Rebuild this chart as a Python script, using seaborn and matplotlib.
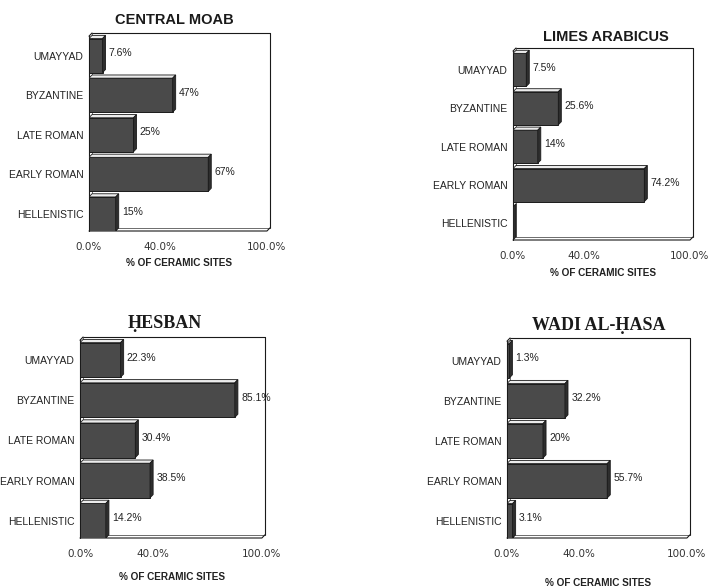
import matplotlib
matplotlib.use("Agg")
import matplotlib.pyplot as plt
from matplotlib.patches import Polygon
import seaborn as sns
import pandas as pd

# Periods, listed top to bottom
periods = ["UMAYYAD", "BYZANTINE", "LATE ROMAN", "EARLY ROMAN", "HELLENISTIC"]

# Share of ceramic sites (%) per region and period
central_moab = [7.6, 47, 25, 67, 15]
limes_arabicus = [7.5, 25.6, 14, 74.2, 0]
hesban = [22.3, 85.1, 30.4, 38.5, 14.2]
wadi_al_hasa = [1.3, 32.2, 20, 55.7, 3.1]

tick_values = [0, 40, 100]
tick_labels = ["0.0%", "40.0%", "100.0%"]
x_label = "% OF CERAMIC SITES"

sns.set_style("white")
plt.rcParams["font.family"] = ["Liberation Sans", "DejaVu Sans"]

W, H = 718, 588
fig = plt.figure(figsize=(W / 100, H / 100), dpi=100)

# (title, values, box in pixels [left, top, right, bottom], title style,
#  title offset px (dx, dy above top), xlabel offset px below bottom)
panels = [
    ("CENTRAL MOAB", central_moab, (89, 33, 270, 231), "sans", (-5, 13), 32),
    ("LIMES ARABICUS", limes_arabicus, (513, 48, 693, 240), "sans", (3, 11), 33),
    ("ḤESBAN", hesban, (80, 337, 265, 538), "serif", (-8, 14), 39),
    ("WADI AL-ḤASA", wadi_al_hasa, (507, 338, 690, 538), "serif", (0, 13), 45),
]

DX = 1.7      # depth offset along x (data units)
DY = 0.08     # depth offset along y (category units)
BAR_W = 0.86
FRONT = "#4a4a4a"
TOP = "#ececec"
SIDE = "#2e2e2e"
LINE = "#1a1a1a"

for title, vals, (l, t, r, b), style, (tdx, tdy), xl_off in panels:
    ax = fig.add_axes([l / W, 1 - b / H, (r - l) / W, (b - t) / H])
    df = pd.DataFrame({"period": periods, "share": vals})
    sns.barplot(data=df, x="share", y="period", orient="h", color=FRONT,
                saturation=1, edgecolor=LINE, linewidth=0.7, width=BAR_W,
                ax=ax, zorder=3)

    bottom = len(periods) - 1 + BAR_W / 2
    top = bottom - 5.0
    ax.set_xlim(0, 100 + DX)
    ax.set_ylim(bottom, top)

    # 3D faces of each bar: light top face and dark right face
    bars = list(ax.patches)
    for bar, v in zip(bars, vals):
        y0 = bar.get_y()               # upper edge (smaller y, axis inverted)
        y1 = y0 + bar.get_height()     # lower edge
        w = bar.get_width()
        ax.add_patch(Polygon([(0, y0), (w, y0), (w + DX, y0 - DY), (DX, y0 - DY)],
                             closed=True, facecolor=TOP, edgecolor=LINE,
                             linewidth=0.6, zorder=4))
        ax.add_patch(Polygon([(w, y0), (w + DX, y0 - DY), (w + DX, y1 - DY), (w, y1)],
                             closed=True, facecolor=SIDE, edgecolor=LINE,
                             linewidth=0.6, zorder=4))
        if v > 0:
            ax.text(w + DX + 1.8, (y0 + y1) / 2 - 0.06, f"{v:g}%",
                    ha="left", va="center", fontsize=7.5, color="#222")

    # Box: back wall, left wall and floor
    lk = dict(color=LINE, lw=0.8, clip_on=False, zorder=2)
    ax.plot([DX, 100 + DX], [top, top], **lk)
    ax.plot([100 + DX, 100 + DX], [top, bottom - DY], **lk)
    ax.plot([DX, 100 + DX], [bottom - DY, bottom - DY], color="#555", lw=0.6,
            clip_on=False, zorder=2)
    ax.plot([0, 100, 100 + DX], [bottom, bottom, bottom - DY], **lk)
    ax.plot([0, 0], [top + DY, bottom], **lk)
    ax.plot([DX, DX], [top, bottom - DY], color="#555", lw=0.6, clip_on=False, zorder=2)
    ax.plot([0, DX], [top + DY, top], **lk)

    for s in ax.spines.values():
        s.set_visible(False)

    ax.set_xticks(tick_values)
    ax.set_xticklabels(tick_labels, family="DejaVu Sans", fontsize=7.5, color="#333")
    ax.set_xticks(range(10, 100, 10), minor=True)
    ax.tick_params(axis="x", which="major", length=2, width=0.6, pad=6, color="#444")
    ax.tick_params(axis="x", which="minor", length=1.5, width=0.6, color="#444")
    ax.tick_params(axis="y", length=0, pad=4, labelsize=7.5, labelcolor="#222")
    ax.set_xlabel("")
    ax.set_ylabel("")

    ax.annotate(x_label, xy=(0.5, 0), xycoords="axes fraction",
                xytext=(0, -xl_off * 0.72), textcoords="offset points",
                ha="center", va="center", fontsize=7.2, fontweight="bold", color="#222")

    if style == "sans":
        tkw = dict(fontsize=10.5, fontweight="bold", family=["Liberation Sans", "DejaVu Sans"])
    else:
        tkw = dict(fontsize=13, fontweight="bold", family=["Liberation Serif", "DejaVu Serif"])
    ax.annotate(title, xy=(0.5, 1), xycoords="axes fraction",
                xytext=(tdx * 0.72, tdy * 0.72), textcoords="offset points",
                ha="center", va="center", color="#1a1a1a", **tkw)

fig.savefig("out.png", dpi=100, facecolor="white")
